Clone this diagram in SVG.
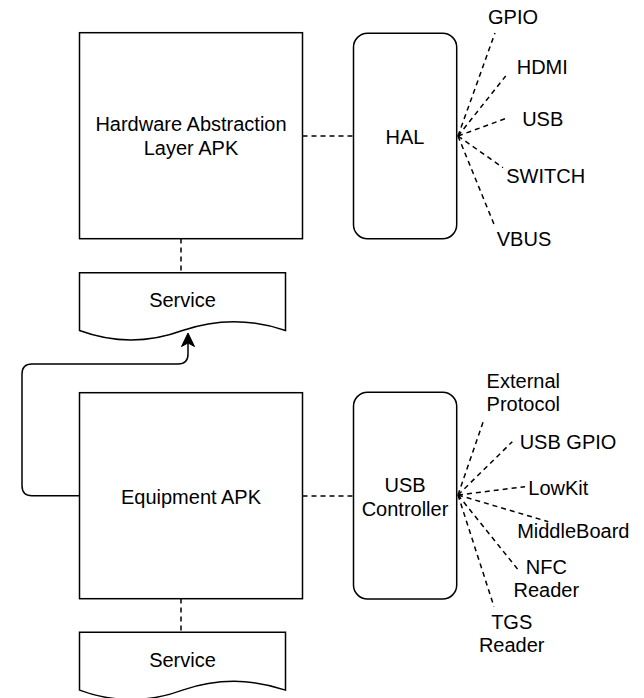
<svg xmlns="http://www.w3.org/2000/svg" width="644" height="698" viewBox="0 0 644 698">
<style>
.box{fill:#fff;stroke:#000;stroke-width:1.5}
.t{font-family:"Liberation Sans",Arial,Helvetica,sans-serif;font-size:20px;fill:#000;text-anchor:middle}
.d{fill:none;stroke:#000;stroke-width:1.5;stroke-dasharray:5 4}
.s{fill:none;stroke:#000;stroke-width:1.5}
</style>
<rect width="644" height="698" fill="#fff"/>
<g id="connectors">
<line class="d" x1="181" y1="238.5" x2="181" y2="272.5"/>
<line class="d" x1="181" y1="598.5" x2="181" y2="632.5"/>
<line class="d" x1="302.5" y1="136" x2="353.5" y2="136"/>
<line class="d" x1="302.5" y1="496" x2="353.5" y2="496"/>
<path class="s" d="M79.5 495.7 H32 Q22 495.7 22 485.7 V374 Q22 364 32 364 H178 Q188 364 188 354 V342"/>
<path d="M188 333 L194.5 346.5 L188 343 L181.5 346.5 Z" fill="#000" stroke="#000" stroke-width="1"/>
<g class="fan">
<line class="d" x1="458" y1="136" x2="495" y2="33"/>
<line class="d" x1="458" y1="136" x2="505.7" y2="76"/>
<line class="d" x1="458" y1="136" x2="508" y2="117.7"/>
<line class="d" x1="458" y1="136" x2="503" y2="167.7"/>
<line class="d" x1="458" y1="136" x2="495" y2="226.7"/>
<line class="d" x1="458" y1="495" x2="484" y2="419.3"/>
<line class="d" x1="458" y1="495" x2="512.3" y2="441.7"/>
<line class="d" x1="458" y1="495" x2="525" y2="486.7"/>
<line class="d" x1="458" y1="495" x2="548.3" y2="521.7"/>
<line class="d" x1="458" y1="495" x2="518.3" y2="570"/>
<line class="d" x1="458" y1="495" x2="494" y2="606.7"/>
</g>
</g>
<g id="hal-apk">
<rect class="box" x="79.5" y="32.7" width="223" height="206"/>
<text class="t" x="191" y="131.2">Hardware Abstraction</text>
<text class="t" x="191" y="154.5">Layer APK</text>
</g>
<g id="hal">
<rect class="box" x="353.5" y="33.3" width="103.2" height="205.4" rx="14" ry="14"/>
<text class="t" x="405" y="144">HAL</text>
</g>
<g id="service1">
<path class="box" d="M79.5 272.7 H285.5 V330.5 Q233.8 312.9 182.5 330.5 Q131 349.5 79.5 330.5 Z"/>
<text class="t" x="182.5" y="306.5">Service</text>
</g>
<g id="equipment-apk">
<rect class="box" x="79.5" y="392.7" width="223" height="206"/>
<text class="t" x="191" y="503.5">Equipment APK</text>
</g>
<g id="usb-controller">
<rect class="box" x="353.5" y="392.3" width="103.2" height="206.7" rx="14" ry="14"/>
<text class="t" x="405" y="492">USB</text>
<text class="t" x="405" y="516">Controller</text>
</g>
<g id="service2">
<path class="box" d="M79.5 632.3 H285.5 V690.1 Q233.8 672.5 182.5 690.1 Q131 709.1 79.5 690.1 Z"/>
<text class="t" x="182.5" y="666.5">Service</text>
</g>
<g id="labels">
<text class="t" x="513" y="24">GPIO</text>
<text class="t" x="542.3" y="73.9">HDMI</text>
<text class="t" x="542.7" y="125.5">USB</text>
<text class="t" x="545.7" y="183.2">SWITCH</text>
<text class="t" x="524" y="245.5">VBUS</text>
<text class="t" x="523.3" y="388">External</text>
<text class="t" x="523.3" y="410.5">Protocol</text>
<text class="t" x="568" y="449">USB GPIO</text>
<text class="t" x="558.3" y="495">LowKit</text>
<text class="t" x="573.3" y="538.2">MiddleBoard</text>
<text class="t" x="546.3" y="574">NFC</text>
<text class="t" x="546.3" y="597.2">Reader</text>
<text class="t" x="511.7" y="629">TGS</text>
<text class="t" x="511.7" y="652.2">Reader</text>
</g>
</svg>
